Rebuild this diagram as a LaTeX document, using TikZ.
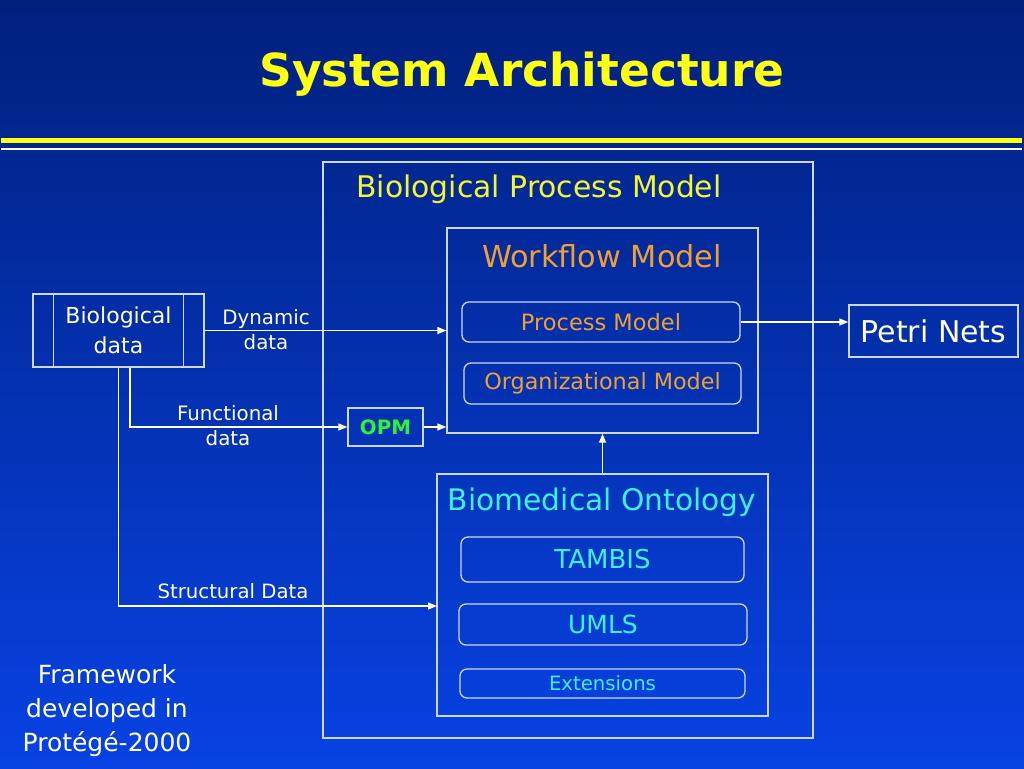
\documentclass[tikz,border=0pt]{standalone}
\usepackage{fontspec}
\setmainfont{DejaVu Sans}
\usetikzlibrary{arrows.meta}
\definecolor{bgtop}{RGB}{0,32,125}
\definecolor{bgbottom}{RGB}{8,66,228}
\definecolor{titleyellow}{RGB}{255,255,20}
\definecolor{softyellow}{RGB}{245,245,50}
\definecolor{cream}{RGB}{255,255,225}
\definecolor{orangetext}{RGB}{240,160,50}
\definecolor{cyantext}{RGB}{60,240,240}
\definecolor{greentext}{RGB}{50,240,50}
\definecolor{linegray}{RGB}{205,215,235}
\newcommand{\fsz}[1]{\fontsize{#1}{#1}\selectfont}
\tikzset{
  box/.style={draw=linegray,line width=1.3pt,inner sep=0pt},
  rbox/.style={box,rounded corners=7pt},
  lbl/.style={inner sep=0pt,text=cream,align=center},
  arrow/.style={-{Triangle[length=9pt,width=7pt]},draw=cream,line width=1.3pt}
}
\begin{document}
\begin{tikzpicture}[x=1pt,y=-1pt]
\shade [top color=bgtop,bottom color=bgbottom] (0,0) rectangle (1024,768);
\useasboundingbox (0,0) rectangle (1024,768);
% title and rules
\node [inner sep=0pt,text=titleyellow,font=\bfseries\fsz{45.5}] (title) at (522,74) {System Architecture};
\fill [titleyellow] (1,138) rectangle (1022,143);
\fill [cream] (1,148.3) rectangle (1022,149.8);
% containers
\node [box,minimum width=490pt,minimum height=576pt] (bpm) at (568,450) {};
\node [lbl,text=softyellow,font=\fsz{29.8}] (bpmtitle) at (539,189) {Biological Process Model};
\node [box,minimum width=311pt,minimum height=205pt] (wfm) at (602.5,330.5) {};
\node [lbl,text=orangetext,font=\fsz{30.3}] (wfmtitle) at (602,256) {Workflow Model};
\node [rbox,minimum width=278pt,minimum height=40pt,text=orangetext,font=\fsz{22.5}] (pm) at (601,322) {Process Model};
\node [rbox,minimum width=277pt,minimum height=41pt,text=orangetext,font=\fsz{22.3}] (om) at (602.5,383.5) {Organizational Model};
\node [box,minimum width=331pt,minimum height=242pt] (bo) at (602.5,595) {};
\node [lbl,text=cyantext,font=\fsz{29.7}] (botitle) at (602,502) {Biomedical Ontology};
\node [rbox,minimum width=283pt,minimum height=45pt,text=cyantext,font=\fsz{26}] (tambis) at (602.5,559.5) {TAMBIS};
\node [rbox,minimum width=288pt,minimum height=41pt,text=cyantext,font=\fsz{25}] (umls) at (603,624.5) {UMLS};
\node [rbox,minimum width=285pt,minimum height=29pt,text=cyantext,font=\fsz{19.7}] (ext) at (602.5,683.5) {Extensions};
% outside boxes
\node [box,minimum width=169pt,minimum height=52pt,text=cream,font=\fsz{30}] (petri) at (933.5,331) {Petri Nets};
\node [box,minimum width=171pt,minimum height=73pt,text=cream,align=center,font=\fontsize{22}{30}\selectfont] (bio) at (118.5,330.5) {Biological\\data};
\draw [linegray,line width=1.3pt] ([xshift=21pt]bio.north west) -- ([xshift=21pt]bio.south west);
\draw [linegray,line width=1.3pt] ([xshift=-21pt]bio.north east) -- ([xshift=-21pt]bio.south east);
\node [box,minimum width=75pt,minimum height=38pt,text=greentext,font=\bfseries\fsz{19.8}] (opm) at (385.5,427) {OPM};
% labels
\node [lbl,font=\fontsize{19.8}{25}\selectfont] (dyn) at (266,330) {Dynamic\\data};
\node [lbl,font=\fontsize{19.8}{25}\selectfont] (func) at (228,426) {Functional\\data};
\node [lbl,font=\fsz{19.7}] (struct) at (233,591) {Structural Data};
\node [lbl,font=\fontsize{25}{34}\selectfont] (frame) at (107,711) {Framework\\developed in\\Protégé-2000};
% connectors
\coordinate (funcstart) at ([xshift=11.5pt]bio.south);
\coordinate (structend) at (437,606);
\draw [arrow] (bio.east) -- (wfm.west |- bio.east);
\draw [arrow] (funcstart) |- (opm.west);
\draw [arrow] (opm.east) -- (wfm.west |- opm.east);
\draw [arrow] (bio.south) |- (structend);
\draw [arrow] (pm.east) -- (petri.west |- pm.east);
\draw [arrow] (bo.north) -- (wfm.south);
\end{tikzpicture}
\end{document}
